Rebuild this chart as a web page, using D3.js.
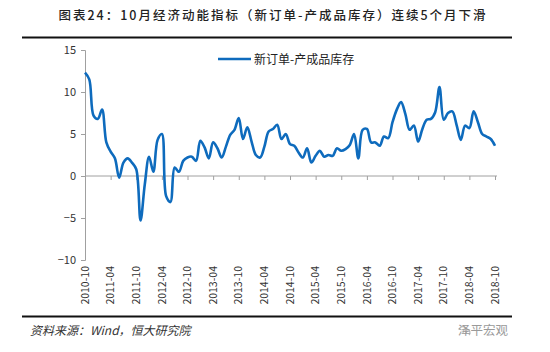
<!DOCTYPE html>
<html><head><meta charset="utf-8">
<script src="https://cdn.jsdelivr.net/npm/d3@7"></script>
<style>
body{margin:0;background:#fff;}
svg{display:block;}
</style>
</head><body>
<svg id="c" width="550" height="352"></svg>
<script>
const title = "图表24：10月经济动能指标（新订单-产成品库存）连续5个月下滑";
const seriesName = "新订单-产成品库存";
const source = "资料来源：Wind，恒大研究院";
const brand = "泽平宏观";
const startYear = 2010, startMonth = 10;
const values = [
  12.3, 11.5, 7.2, 6.8, 7.9, 4.0, 2.9, 2.1, -0.2, 1.6,
  2.1, 1.6, 0.8, -5.3, -1.0, 2.3, 0.5, 4.3, 5.0, -2.4,
  -3.1, 1.0, 0.5, 1.8, 2.2, 2.3, 1.8, 4.2, 3.4, 2.1,
  4.0, 3.3, 2.2, 3.5, 4.9, 5.5, 6.9, 4.4, 5.8, 4.1,
  2.5, 2.2, 3.5, 5.3, 5.6, 6.1, 4.4, 5.0, 3.8, 3.6,
  2.8, 2.2, 3.3, 1.6, 2.4, 3.0, 2.3, 2.5, 2.4, 3.3,
  3.0, 3.2, 3.7, 5.0, 2.1, 5.5, 5.6, 4.0, 4.0, 3.6,
  4.7, 4.5, 6.4, 7.9, 8.8, 7.4, 5.5, 6.0, 4.1, 5.6,
  6.7, 6.8, 7.6, 10.6, 6.7, 7.5, 7.7, 6.1, 4.3, 6.0,
  5.7, 7.7, 6.4, 5.0, 4.7, 4.4, 3.6
];
const yTicks = [-10, -5, 0, 5, 10, 15];
const xTickLabels = ["2010-10","2011-04","2011-10","2012-04","2012-10","2013-04","2013-10","2014-04","2014-10","2015-04","2015-10","2016-04","2016-10","2017-04","2017-10","2018-04","2018-10"];

const svg = d3.select("#c");
const font = "'Noto Sans CJK SC','Noto Sans',sans-serif";

// title
svg.append("text").attr("x", 273).attr("y", 20).attr("text-anchor","middle")
  .attr("font-family", font).attr("font-size", 12.5).attr("font-weight", 500)
  .attr("letter-spacing", 2).attr("fill", "#222").text(title);
svg.append("line").attr("x1",22).attr("x2",512).attr("y1",37.5).attr("y2",37.5)
  .attr("stroke","#111").attr("stroke-width",2);

const x = d3.scaleLinear().domain([0, values.length - 1]).range([85, 495]);
const y = d3.scaleLinear().domain([-10, 15]).range([260, 50]);
const axisColor = "#a0a0a0";

// y axis
const yAxis = d3.axisLeft(y).tickValues(yTicks).tickSize(4).tickFormat(d3.format("d"));
const gy = svg.append("g").attr("transform", "translate(85,0)").call(yAxis);
gy.select(".domain").attr("stroke", axisColor);
gy.selectAll(".tick line").attr("stroke", axisColor);
gy.selectAll(".tick text").attr("font-family", font).attr("font-size", 11)
  .attr("fill", "#333").attr("x", -9);

// x axis at zero
const xTickVals = xTickLabels.map((d, i) => i * 6);
const xAxis = d3.axisBottom(x).tickValues(xTickVals).tickSize(4).tickFormat("");
const gx = svg.append("g").attr("transform", `translate(0,${y(0)})`).call(xAxis);
gx.select(".domain").attr("stroke", axisColor).attr("d", `M85,0H497`);
gx.selectAll(".tick line").attr("stroke", axisColor);

// x labels at bottom
svg.append("g").selectAll("text").data(xTickLabels).join("text")
  .attr("transform", (d, i) => `translate(${x(i * 6)},266) rotate(-90)`)
  .attr("text-anchor", "end").attr("dy", "0.35em")
  .attr("font-family", font).attr("font-size", 10.5).attr("fill", "#333")
  .text(d => d);

// line
const line = d3.line().x((d, i) => x(i)).y(d => y(d)).curve(d3.curveCatmullRom.alpha(0.5));
svg.append("path").datum(values).attr("d", line).attr("fill", "none")
  .attr("stroke", "#0e6bbd").attr("stroke-width", 2.6).attr("stroke-linejoin","round");

// legend
svg.append("line").attr("x1", 218).attr("x2", 251).attr("y1", 59).attr("y2", 59)
  .attr("stroke", "#0e6bbd").attr("stroke-width", 2.6);
svg.append("text").attr("x", 254).attr("y", 63.5).attr("font-family", font)
  .attr("font-size", 12).attr("fill", "#222").text(seriesName);

// footer
svg.append("line").attr("x1",22).attr("x2",512).attr("y1",316.5).attr("y2",316.5)
  .attr("stroke","#111").attr("stroke-width",2);
svg.append("text").attr("x", 30).attr("y", 335).attr("font-family", font)
  .attr("font-size", 12).attr("font-style", "italic").attr("fill", "#333").text(source);
// brand icon
const ic = svg.append("g").attr("transform","translate(465,331)").attr("fill","none")
  .attr("stroke","#b8b8b8").attr("stroke-width",1.2);
ic.append("path").attr("d","M-6,-1 A4,4 0 1,1 0,3");
ic.append("path").attr("d","M-2,2 A3.5,3.5 0 1,1 4,4");
svg.append("text").attr("x", 508).attr("y", 335).attr("text-anchor","end")
  .attr("font-family", font).attr("font-size", 12.5).attr("fill", "#9a9a9a").text(brand);
</script>
</body></html>
